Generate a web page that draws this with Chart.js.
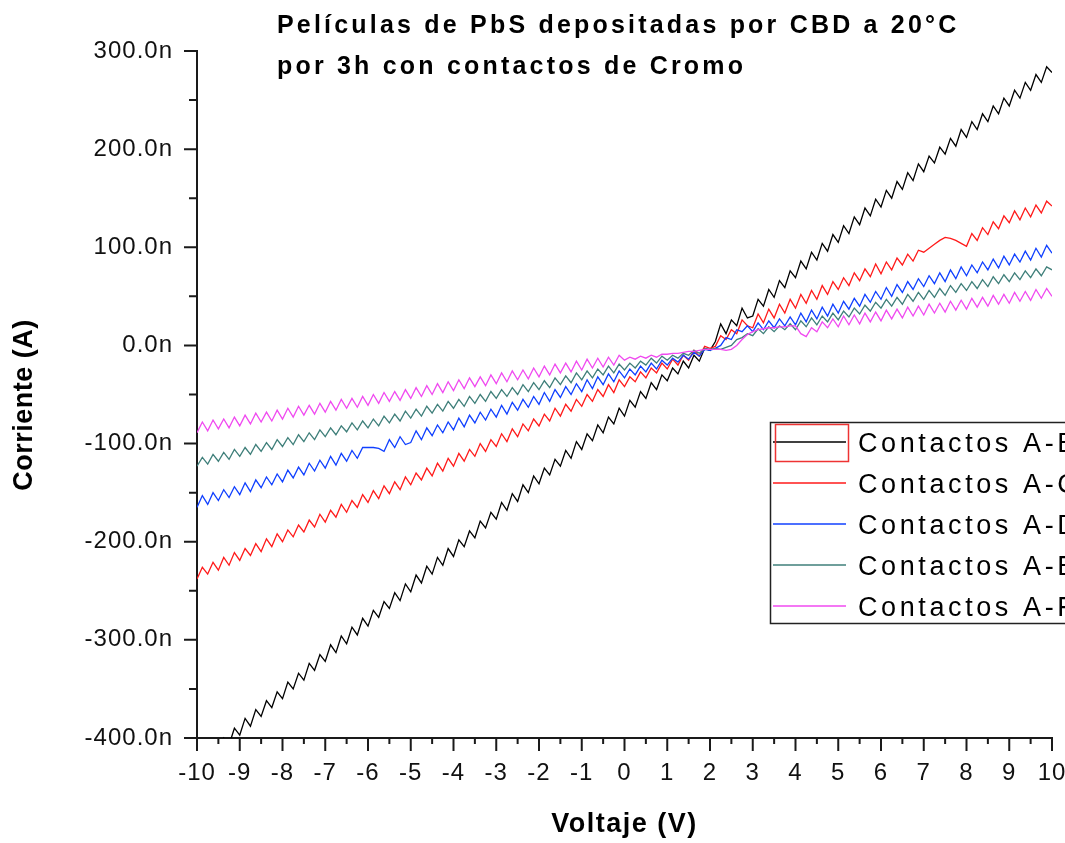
<!DOCTYPE html>
<html lang="es">
<head>
<meta charset="utf-8">
<title>Películas de PbS - curvas I-V</title>
<script src="https://cdn.jsdelivr.net/npm/chart.js@4.4.1/dist/chart.umd.min.js"></script>
<style>
  html, body { margin: 0; padding: 0; background: #fff; overflow: hidden; }
  canvas { display: block; }
</style>
</head>
<body>
<canvas id="iv-chart" width="1065" height="843"></canvas>
<script>
// Voltage sweep (V)
const volts = [
  -10, -9.875, -9.75, -9.625, -9.5, -9.375, -9.25, -9.125,
  -9, -8.875, -8.75, -8.625, -8.5, -8.375, -8.25, -8.125,
  -8, -7.875, -7.75, -7.625, -7.5, -7.375, -7.25, -7.125,
  -7, -6.875, -6.75, -6.625, -6.5, -6.375, -6.25, -6.125,
  -6, -5.875, -5.75, -5.625, -5.5, -5.375, -5.25, -5.125,
  -5, -4.875, -4.75, -4.625, -4.5, -4.375, -4.25, -4.125,
  -4, -3.875, -3.75, -3.625, -3.5, -3.375, -3.25, -3.125,
  -3, -2.875, -2.75, -2.625, -2.5, -2.375, -2.25, -2.125,
  -2, -1.875, -1.75, -1.625, -1.5, -1.375, -1.25, -1.125,
  -1, -0.875, -0.75, -0.625, -0.5, -0.375, -0.25, -0.125,
  0, 0.125, 0.25, 0.375, 0.5, 0.625, 0.75, 0.875,
  1, 1.125, 1.25, 1.375, 1.5, 1.625, 1.75, 1.875,
  2, 2.125, 2.25, 2.375, 2.5, 2.625, 2.75, 2.875,
  3, 3.125, 3.25, 3.375, 3.5, 3.625, 3.75, 3.875,
  4, 4.125, 4.25, 4.375, 4.5, 4.625, 4.75, 4.875,
  5, 5.125, 5.25, 5.375, 5.5, 5.625, 5.75, 5.875,
  6, 6.125, 6.25, 6.375, 6.5, 6.625, 6.75, 6.875,
  7, 7.125, 7.25, 7.375, 7.5, 7.625, 7.75, 7.875,
  8, 8.125, 8.25, 8.375, 8.5, 8.625, 8.75, 8.875,
  9, 9.125, 9.25, 9.375, 9.5, 9.625, 9.75, 9.875,
  10
];

// Current in nA for each pair of contacts
const contactsAB = [
  -436, -419, -426, -409, -417, -400, -407, -390,
  -397, -380, -388, -371, -378, -362, -369, -353,
  -360, -343, -350, -334, -341, -324, -331, -315,
  -322, -305, -313, -296, -304, -287, -295, -278,
  -286, -270, -277, -261, -268, -252, -260, -243,
  -251, -234, -242, -225, -233, -216, -224, -207,
  -215, -198, -205, -189, -196, -179, -186, -170,
  -177, -160, -168, -151, -159, -142, -150, -133,
  -141, -125, -132, -116, -123, -107, -115, -98,
  -106, -90, -97, -81, -89, -73, -80, -64,
  -72, -56, -63, -47, -54, -38, -45, -30,
  -36, -23, -29, -16, -23, -10, -16, -3,
  -5, 4, 22, 12, 26, 20, 38, 28,
  30, 47, 40, 57, 49, 66, 59, 76,
  69, 86, 78, 95, 87, 104, 96, 113,
  105, 122, 114, 131, 123, 140, 132, 149,
  141, 158, 150, 167, 159, 176, 168, 185,
  177, 193, 186, 202, 195, 211, 203, 220,
  212, 228, 220, 236, 228, 244, 236, 252,
  244, 260, 252, 268, 260, 276, 268, 284,
  278
];

const contactsAC = [
  -238, -226, -233, -221, -229, -216, -224, -211,
  -219, -207, -214, -202, -210, -197, -205, -192,
  -200, -188, -195, -183, -190, -178, -185, -172,
  -180, -168, -175, -162, -170, -158, -165, -152,
  -160, -148, -156, -143, -151, -139, -147, -134,
  -142, -130, -137, -125, -133, -120, -128, -115,
  -123, -110, -118, -106, -113, -100, -108, -96,
  -103, -90, -98, -85, -93, -80, -87, -75,
  -82, -70, -77, -64, -72, -60, -67, -55,
  -62, -50, -57, -45, -52, -40, -48, -35,
  -42, -32, -37, -27, -33, -23, -28, -18,
  -24, -14, -20, -10, -15, -5, -11, -1,
  -3, -1, 10, 6, 16, 12, 26, 20,
  18, 32, 23, 37, 28, 42, 33, 47,
  38, 52, 43, 56, 47, 61, 52, 65,
  57, 69, 61, 74, 66, 78, 70, 83,
  73, 85, 77, 89, 82, 93, 86, 97,
  95, 99, 103, 107, 110, 109, 107, 104,
  101, 114, 107, 120, 113, 126, 119, 132,
  125, 137, 128, 140, 131, 143, 135, 147,
  142
];

const contactsAD = [
  -165, -153, -162, -150, -158, -147, -155, -144,
  -152, -140, -149, -137, -145, -134, -142, -131,
  -139, -127, -135, -124, -132, -120, -128, -117,
  -125, -113, -122, -110, -118, -107, -115, -104,
  -104, -104, -105, -108, -96, -104, -93, -101,
  -99, -87, -96, -84, -92, -81, -89, -78,
  -86, -74, -83, -71, -79, -68, -76, -65,
  -73, -61, -70, -58, -66, -55, -63, -52,
  -60, -48, -57, -45, -53, -42, -50, -39,
  -47, -35, -44, -32, -40, -29, -37, -26,
  -33, -24, -30, -21, -27, -18, -24, -15,
  -20, -13, -17, -10, -14, -7, -11, -4,
  -5, -3, 0, 8, 6, 16, 14, 20,
  14, 23, 16, 25, 18, 27, 20, 29,
  21, 33, 24, 36, 27, 39, 30, 42,
  33, 45, 37, 48, 40, 52, 44, 55,
  47, 59, 50, 62, 54, 65, 57, 68,
  60, 71, 63, 74, 65, 77, 68, 80,
  71, 82, 74, 85, 77, 88, 79, 91,
  82, 93, 85, 96, 87, 99, 90, 102,
  94
];

const contactsAE = [
  -123, -114, -121, -111, -118, -109, -116, -106,
  -113, -104, -111, -101, -108, -99, -106, -96,
  -103, -94, -101, -91, -98, -89, -96, -86,
  -93, -84, -91, -82, -88, -79, -86, -77,
  -84, -75, -82, -72, -79, -70, -77, -67,
  -74, -65, -72, -62, -69, -60, -67, -57,
  -64, -55, -62, -52, -59, -50, -57, -47,
  -54, -45, -52, -43, -50, -40, -47, -38,
  -45, -36, -43, -33, -40, -31, -38, -28,
  -35, -26, -33, -24, -30, -21, -28, -19,
  -25, -18, -23, -16, -20, -13, -18, -11,
  -15, -10, -13, -8, -10, -5, -8, -3,
  -4, -3, -4, -2, 0, 6, 8, 12,
  10, 17, 12, 19, 14, 20, 16, 22,
  16, 25, 19, 28, 21, 30, 24, 33,
  26, 35, 29, 38, 32, 41, 35, 44,
  38, 47, 40, 49, 42, 52, 45, 54,
  47, 56, 49, 58, 51, 61, 54, 63,
  56, 65, 58, 67, 60, 70, 63, 72,
  65, 74, 67, 76, 69, 78, 71, 80,
  77
];

const contactsAF = [
  -89, -78, -87, -76, -85, -75, -84, -73,
  -82, -71, -80, -69, -78, -68, -77, -66,
  -75, -64, -73, -62, -71, -61, -70, -59,
  -68, -57, -66, -55, -64, -54, -63, -52,
  -61, -50, -59, -48, -57, -47, -56, -45,
  -54, -43, -52, -41, -50, -39, -48, -37,
  -46, -35, -44, -33, -42, -32, -41, -30,
  -39, -28, -37, -26, -35, -25, -34, -23,
  -32, -21, -30, -19, -28, -18, -27, -16,
  -25, -14, -23, -13, -22, -12, -20, -10,
  -15, -12, -14, -11, -13, -10, -12, -9,
  -9, -8, -8, -7, -6, -6, -5, -4,
  -4, -4, -4, -5, -4, 0, 6, 11,
  14, 16, 17, 18, 18, 19, 19, 20,
  20, 12, 9, 18, 14, 24, 18, 27,
  19, 30, 21, 31, 22, 33, 24, 34,
  25, 36, 27, 37, 28, 39, 30, 40,
  31, 42, 33, 43, 34, 45, 36, 46,
  37, 48, 39, 49, 40, 51, 42, 52,
  43, 54, 45, 55, 46, 57, 48, 58,
  50
];

const seriesLabels = ['Contactos A-B', 'Contactos A-C', 'Contactos A-D', 'Contactos A-E', 'Contactos A-F'];
const seriesColors = ['#000000', '#ff1a1a', '#1040ff', '#3f7f7a', '#f04af0'];
const titleLines = ['Películas de PbS depositadas por CBD a 20°C', 'por 3h con contactos de Cromo'];

const FONT = '"Liberation Sans", Arial, sans-serif';
const X_MIN = -10, X_MAX = 10;
const Y_MIN = -400, Y_MAX = 300;

const toPoints = (ys) => volts.map((v, i) => ({ x: v, y: ys[i] }));

const datasets = [contactsAB, contactsAC, contactsAD, contactsAE, contactsAF].map((ys, i) => ({
  label: seriesLabels[i],
  data: toPoints(ys),
  borderColor: seriesColors[i],
  borderWidth: 1.3,
  pointRadius: 0,
  tension: 0,
  order: 5 - i, // later series painted on top
}));

// minor/major tick marks, titles and the boxed legend
const originDecor = {
  id: 'originDecor',
  beforeDraw(chart) {
    chart.ctx.letterSpacing = '1px';
  },
  afterDraw(chart) {
    const { ctx, chartArea: area, scales: { x, y } } = chart;
    ctx.save();

    // tick marks, pointing outwards
    ctx.strokeStyle = '#1a1a1a';
    ctx.lineWidth = 2;
    ctx.beginPath();
    for (let v = Y_MIN; v <= Y_MAX; v += 50) {
      const py = y.getPixelForValue(v);
      const len = v % 100 === 0 ? 13 : 8;
      ctx.moveTo(area.left - len, py);
      ctx.lineTo(area.left, py);
    }
    for (let v = X_MIN; v <= X_MAX; v += 0.5) {
      const px = x.getPixelForValue(v);
      const len = Number.isInteger(v) ? 13 : 6;
      ctx.moveTo(px, area.bottom);
      ctx.lineTo(px, area.bottom + len);
    }
    ctx.stroke();

    // chart title
    ctx.fillStyle = '#000';
    ctx.textAlign = 'left';
    ctx.textBaseline = 'alphabetic';
    ctx.font = `bold 25px ${FONT}`;
    ctx.letterSpacing = '3.2px';
    ctx.fillText(titleLines[0], 277, 33);
    ctx.fillText(titleLines[1], 277, 74);

    // axis titles
    ctx.font = `bold 27px ${FONT}`;
    ctx.letterSpacing = '1.5px';
    ctx.textAlign = 'center';
    ctx.fillText('Voltaje (V)', (area.left + area.right) / 2, 832);
    ctx.save();
    ctx.translate(32, 405);
    ctx.rotate(-Math.PI / 2);
    ctx.letterSpacing = '0.5px';
    ctx.fillText('Corriente (A)', 0, 0);
    ctx.restore();

    // legend box
    const lx = 770, ly = 422, rowH = 41;
    ctx.fillStyle = '#fff';
    ctx.fillRect(lx, ly, 320, 201);
    ctx.strokeStyle = '#222';
    ctx.lineWidth = 1.5;
    ctx.strokeRect(lx + 0.5, ly + 0.5, 320, 201);
    ctx.font = `27px ${FONT}`;
    ctx.letterSpacing = '3.6px';
    ctx.textAlign = 'left';
    chart.data.datasets.forEach((ds, i) => {
      const cy = ly + 20 + i * rowH;
      ctx.strokeStyle = ds.borderColor;
      ctx.lineWidth = 1.5;
      ctx.beginPath();
      ctx.moveTo(lx + 3, cy);
      ctx.lineTo(lx + 76, cy);
      ctx.stroke();
      ctx.fillStyle = '#000';
      ctx.fillText(ds.label, lx + 88, cy + 10);
    });
    // selection frame around the first sample
    ctx.strokeStyle = '#ee3333';
    ctx.lineWidth = 1.5;
    ctx.strokeRect(lx + 5.5, ly + 2.5, 73, 37);

    ctx.restore();
  }
};

new Chart(document.getElementById('iv-chart'), {
  type: 'line',
  data: { datasets },
  options: {
    responsive: false,
    animation: false,
    devicePixelRatio: 1,
    layout: { padding: { top: 51, right: 13, left: 0, bottom: 0 } },
    plugins: {
      legend: { display: false },
      tooltip: { enabled: false },
      title: { display: false },
    },
    scales: {
      x: {
        type: 'linear',
        min: X_MIN,
        max: X_MAX,
        grid: { display: false, drawTicks: false },
        border: { display: true, color: '#1a1a1a', width: 2 },
        ticks: {
          stepSize: 1,
          padding: 21,
          color: '#111',
          maxRotation: 0,
          autoSkip: false,
          font: { family: FONT, size: 24 },
          callback: (v) => String(v),
        },
        afterFit: (s) => { s.height = 105; s.paddingLeft = 0; s.paddingRight = 0; },
      },
      y: {
        type: 'linear',
        min: Y_MIN,
        max: Y_MAX,
        grid: { display: false, drawTicks: false },
        border: { display: true, color: '#1a1a1a', width: 2 },
        ticks: {
          stepSize: 100,
          padding: 24,
          color: '#111',
          font: { family: FONT, size: 24 },
          callback: (v) => `${v.toFixed(1)}n`,
        },
        afterFit: (s) => { s.width = 197; s.paddingTop = 0; s.paddingBottom = 0; },
      },
    },
  },
  plugins: [originDecor],
});
</script>
</body>
</html>
